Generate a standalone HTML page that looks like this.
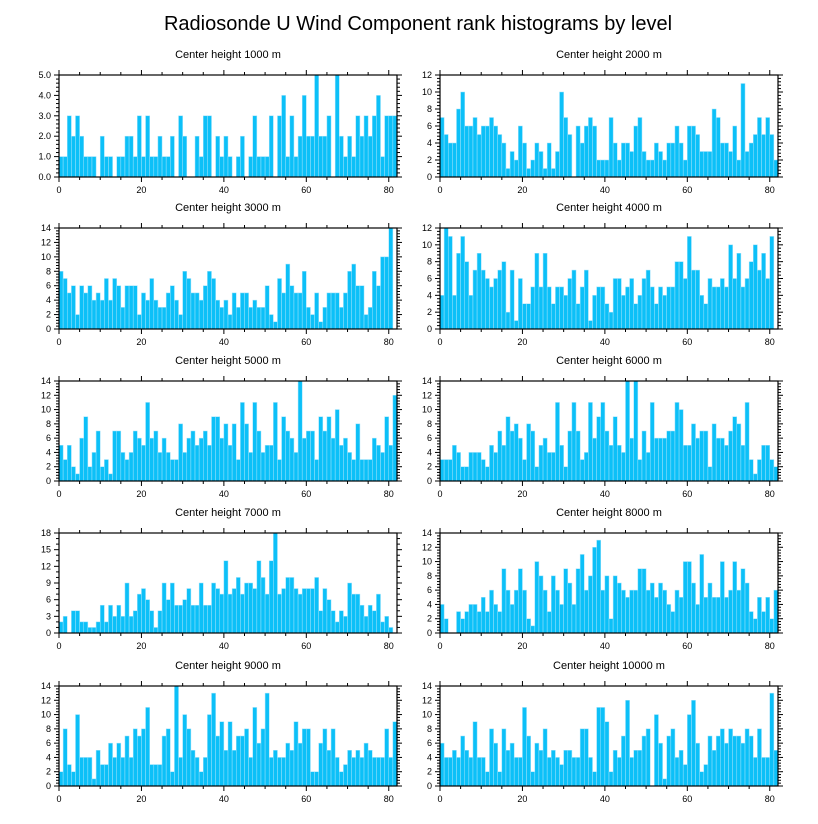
<!DOCTYPE html>
<html><head><meta charset="utf-8">
<style>
html,body{margin:0;padding:0;background:#fff;}
svg{display:block;font-family:"Liberation Sans",Arial,sans-serif;}
</style></head>
<body>
<svg id="chart" width="818" height="824" viewBox="0 0 818 824" xmlns="http://www.w3.org/2000/svg">
<text x="418" y="30" font-size="20" text-anchor="middle">Radiosonde U Wind Component rank histograms by level</text>
</svg>
<script>
const levels = ["1000","2000","3000","4000","5000","6000","7000","8000","9000","10000"];
const yMax = [5,12,14,12,14,14,18,14,14,14];
const yStep = [1,2,2,2,2,2,3,2,2,2];
const yDecimals = [1,0,0,0,0,0,0,0,0,0];
const xTicks = [0,20,40,60,80];
const v1000 = [1,1,3,2,3,2,1,1,1,0,2,1,1,0,1,1,2,2,1,3,1,3,1,1,2,1,1,2,0,3,2,0,0,2,1,3,3,0,2,1,2,1,0,1,2,0,1,3,1,1,1,3,0,3,4,1,3,1,2,4,2,2,5,2,2,3,0,5,2,1,2,1,3,2,3,2,3,4,1,3,3,3];
const v2000 = [7,5,4,4,8,10,6,6,7,5,6,6,7,6,5,4,1,3,2,6,4,1,2,4,3,1,4,1,3,10,7,5,0,6,4,6,7,6,2,2,2,7,4,2,4,4,3,6,7,3,2,2,4,3,2,4,4,6,4,2,6,6,5,3,3,3,8,7,4,4,3,6,2,11,3,4,5,7,5,7,5,2];
const v3000 = [8,7,5,6,2,6,5,6,4,5,4,7,4,7,6,3,6,6,6,2,5,4,7,4,3,3,5,6,4,2,8,7,5,5,4,6,8,7,4,3,4,2,5,3,5,5,3,4,3,3,6,2,1,7,5,9,6,5,5,8,3,2,5,1,3,5,5,5,3,5,8,9,6,6,2,3,8,6,10,10,14];
const v4000 = [4,12,11,4,9,11,8,4,7,9,7,6,5,6,7,8,2,7,1,6,3,3,5,9,5,9,5,3,5,5,4,6,7,3,5,7,1,4,5,5,3,2,6,6,4,5,6,3,4,6,7,5,3,5,4,5,5,8,8,6,11,7,7,4,3,6,5,5,6,5,10,6,9,5,6,8,10,7,9,6,11];
const v5000 = [5,3,5,2,1,6,9,2,4,7,2,3,1,7,7,4,3,4,7,6,5,11,6,7,4,6,4,3,3,8,4,6,7,5,6,7,5,9,9,6,8,5,8,3,11,8,4,11,7,4,5,5,11,3,9,7,6,4,14,6,7,7,3,9,7,9,6,10,5,6,4,3,8,3,3,3,6,5,4,9,5,12];
const v6000 = [3,3,3,5,4,2,2,4,4,4,3,2,5,4,7,5,9,7,8,6,3,8,7,2,5,6,4,4,11,5,2,7,11,7,3,4,11,6,9,11,7,5,9,5,4,14,6,14,3,7,4,11,6,6,6,7,7,11,10,5,5,8,6,7,7,2,8,6,6,5,7,9,8,5,11,3,1,3,5,5,3,2];
const v7000 = [2,3,0,4,4,2,2,1,1,2,5,2,5,3,5,3,9,3,4,7,8,6,4,1,4,9,6,9,5,5,6,8,5,5,9,5,5,9,8,7,13,7,8,10,7,9,9,8,13,10,7,13,18,7,8,10,10,8,7,8,8,8,10,4,8,6,4,2,4,3,9,7,7,5,3,5,4,7,2,3,1];
const v8000 = [4,2,0,0,3,2,3,4,4,3,5,3,6,4,3,9,6,4,6,9,6,2,1,10,8,6,3,8,6,4,9,7,4,9,11,6,8,12,13,6,8,2,8,7,6,5,6,6,9,9,6,7,5,7,6,4,3,6,5,10,10,7,4,11,5,7,5,5,10,5,6,10,6,9,7,3,2,5,3,5,2,6];
const v9000 = [2,8,3,2,10,4,4,4,1,5,3,3,6,4,6,4,7,4,8,7,8,11,3,3,3,7,8,2,14,4,10,8,5,4,2,4,10,13,7,9,5,9,5,7,7,8,4,11,6,8,13,4,5,4,4,6,5,9,6,8,8,2,2,6,8,5,8,4,2,3,5,4,5,4,6,5,4,4,4,8,4,9];
const v10000 = [6,4,4,5,4,7,5,4,9,4,4,2,8,6,2,8,5,6,4,4,11,7,2,6,5,8,4,5,4,3,5,5,4,4,8,8,4,2,11,11,9,2,5,4,7,12,4,5,5,7,8,0,10,6,1,7,8,4,5,3,10,12,6,2,3,7,5,7,8,6,8,7,7,6,8,7,4,8,4,4,13,5];
const series = [v1000,v2000,v3000,v4000,v5000,v6000,v7000,v8000,v9000,v10000];

const NS = "http://www.w3.org/2000/svg";
const svg = document.getElementById("chart");
const colX = [59, 440];
const plotW = 338;
const rowTop = [75, 228, 381, 533, 686];
const rowH = [102, 101, 100, 100, 100];
const xMaxVal = 82;

function mk(tag, attrs, parent){
  const e = document.createElementNS(NS, tag);
  for (const k in attrs) e.setAttribute(k, attrs[k]);
  parent.appendChild(e);
  return e;
}

series.forEach((vals, p) => {
  const left = colX[p % 2], top = rowTop[Math.floor(p/2)], h = rowH[Math.floor(p/2)];
  const bottom = top + h, right = left + plotW;
  const xs = v => left + v / xMaxVal * plotW;
  const ys = v => bottom - v / yMax[p] * h;
  const g = mk("g", {}, svg);
  
  

  const t = mk("text", {x: left + plotW/2, y: top - 17, "font-size": 11, "text-anchor": "middle"}, g);
  t.textContent = "Center height " + levels[p] + " m";
  
  

  vals.forEach((v, i) => {
    if (v <= 0) return;
    const r = mk("rect", {x: xs(i), y: ys(v), width: xs(i+1) - xs(i), height: bottom - ys(v), fill: "#0cc0f8", stroke: "#9fe2fb", "stroke-width": 0.5}, g);
    
    
  });

  const box = mk("rect", {x: left, y: top, width: plotW, height: h, fill: "none", stroke: "#000", "stroke-width": 1.2}, g);
  
  

  // x ticks
  for (let v = 0; v <= 80; v += 5) {
    const major = v % 20 === 0;
    const L = major ? 5 : 3;
    const x = xs(v);
    mk("line", {x1: x, x2: x, y1: bottom, y2: bottom + L, stroke: "#000", "stroke-width": 1}, g);
    mk("line", {x1: x, x2: x, y1: top, y2: top - L, stroke: "#000", "stroke-width": 1}, g);
  }
  xTicks.forEach(v => {
    const tx = mk("text", {x: xs(v), y: bottom + 16, "font-size": 9, "text-anchor": "middle"}, g);
    tx.textContent = v;
    
    
  });
  // y ticks
  const minor = yStep[p] / (yStep[p] === 3 ? 3 : 5);
  for (let k = 0; k * minor <= yMax[p] + 1e-9; k++) {
    const v = k * minor;
    const major = Math.abs(v / yStep[p] - Math.round(v / yStep[p])) < 1e-6;
    const L = major ? 5 : 3;
    const y = ys(v);
    mk("line", {x1: left, x2: left - L, y1: y, y2: y, stroke: "#000", "stroke-width": 1}, g);
    mk("line", {x1: right, x2: right + L, y1: y, y2: y, stroke: "#000", "stroke-width": 1}, g);
  }
  for (let v = 0; v <= yMax[p] + 1e-9; v += yStep[p]) {
    const ty = mk("text", {x: left - 8, y: ys(v) + 3, "font-size": 9, "text-anchor": "end"}, g);
    ty.textContent = v.toFixed(yDecimals[p]);
    
    
  }
});
</script>
</body></html>
